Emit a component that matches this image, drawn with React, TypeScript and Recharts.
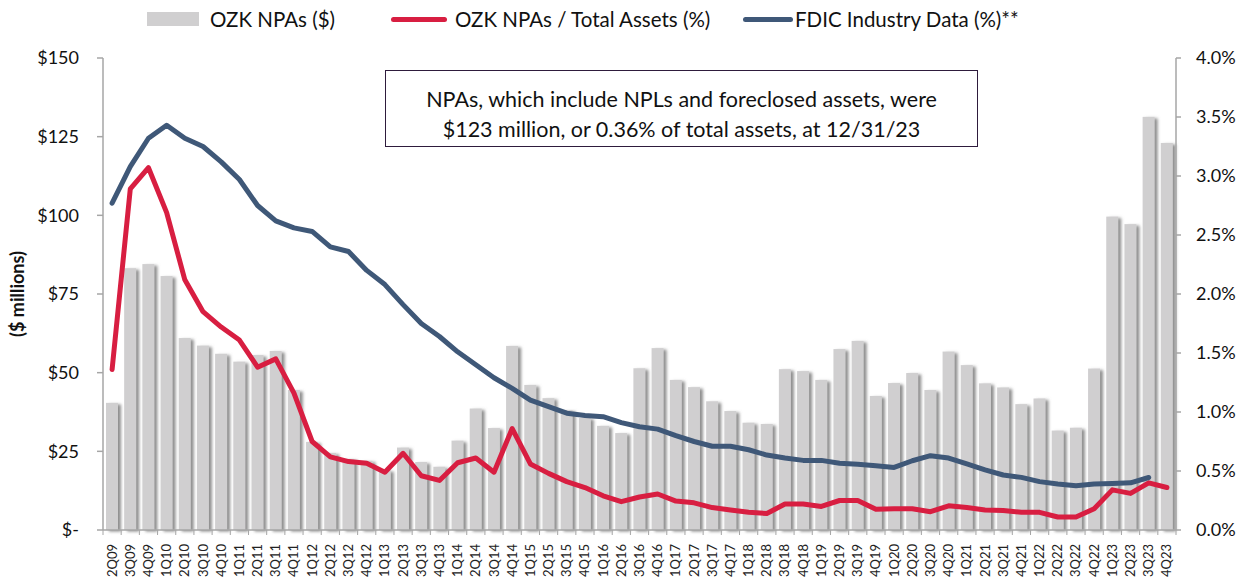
import { ComposedChart, Bar, Line, XAxis, YAxis } from 'recharts';

const quarters = [
  '2Q09', '3Q09', '4Q09',
  '1Q10', '2Q10', '3Q10', '4Q10',
  '1Q11', '2Q11', '3Q11', '4Q11',
  '1Q12', '2Q12', '3Q12', '4Q12',
  '1Q13', '2Q13', '3Q13', '4Q13',
  '1Q14', '2Q14', '3Q14', '4Q14',
  '1Q15', '2Q15', '3Q15', '4Q15',
  '1Q16', '2Q16', '3Q16', '4Q16',
  '1Q17', '2Q17', '3Q17', '4Q17',
  '1Q18', '2Q18', '3Q18', '4Q18',
  '1Q19', '2Q19', '3Q19', '4Q19',
  '1Q20', '2Q20', '3Q20', '4Q20',
  '1Q21', '2Q21', '3Q21', '4Q21',
  '1Q22', '2Q22', '3Q22', '4Q22',
  '1Q23', '2Q23', '3Q23', '4Q23',
];

// OZK NPAs, $ millions
const npaDollars = [
  40.4, 83.2, 84.5, 80.7, 61.0, 58.6, 56.0, 53.5, 55.6, 56.9,
  44.5, 28.0, 24.5, 22.6, 22.0, 19.0, 26.2, 21.6, 20.1, 28.4,
  38.6, 32.4, 58.5, 46.1, 41.9, 38.1, 35.6, 33.1, 30.8, 51.4,
  57.8, 47.7, 45.4, 40.9, 37.8, 34.1, 33.7, 51.1, 50.5, 47.7,
  57.5, 60.1, 42.6, 46.7, 49.9, 44.5, 56.7, 52.4, 46.6, 45.3,
  40.0, 41.8, 31.6, 32.5, 51.3, 99.6, 97.2, 131.3, 123.0,
];

// OZK NPAs / total assets, %
const npaRatio = [
  1.36, 2.89, 3.07, 2.69, 2.12, 1.85, 1.72, 1.61, 1.38, 1.45,
  1.16, 0.75, 0.62, 0.58, 0.565, 0.49, 0.65, 0.46, 0.42, 0.57,
  0.61, 0.49, 0.86, 0.56, 0.48, 0.41, 0.36, 0.29, 0.24, 0.28,
  0.305, 0.245, 0.23, 0.19, 0.17, 0.15, 0.14, 0.22, 0.22, 0.2,
  0.25, 0.25, 0.175, 0.18, 0.18, 0.155, 0.205, 0.19, 0.17, 0.165,
  0.15, 0.15, 0.11, 0.11, 0.18, 0.34, 0.31, 0.4, 0.36,
];

// FDIC industry NPAs, % (no 4Q23 figure yet)
const fdicRatio = [
  2.77, 3.08, 3.32, 3.43, 3.32, 3.25, 3.12, 2.97, 2.75, 2.62,
  2.56, 2.53, 2.4, 2.36, 2.2, 2.08, 1.91, 1.75, 1.64, 1.51,
  1.4, 1.29, 1.2, 1.1, 1.045, 0.99, 0.97, 0.96, 0.91, 0.875,
  0.855, 0.8, 0.75, 0.71, 0.71, 0.68, 0.635, 0.61, 0.59, 0.59,
  0.565, 0.557, 0.545, 0.53, 0.587, 0.63, 0.61, 0.56, 0.51, 0.466,
  0.446, 0.41, 0.39, 0.375, 0.39, 0.395, 0.4, 0.445, null,
];

const dollarTicks = [0, 25, 50, 75, 100, 125, 150];
const pctTicks = [0, 0.5, 1, 1.5, 2, 2.5, 3, 3.5, 4];

const data = quarters.map((q, i) => ({
  q,
  npa: npaDollars[i],
  ratio: npaRatio[i],
  fdic: fdicRatio[i],
}));

const FONT = 'Lato, "Open Sans", sans-serif';
const BAR_FILL = '#d0cfd0';
const RED = '#d81e41';
const BLUE = '#3f5878';
const AXIS = '#a6a6a6';
const BAND = 1073 / quarters.length;

function QuarterTick(props: any) {
  const { x, y, payload, index } = props;
  const last = index === quarters.length - 1;
  return (
    <g>
      <line x1={x - BAND / 2} y1={y} x2={x - BAND / 2} y2={y + 5} stroke={AXIS} />
      {last && <line x1={x + BAND / 2} y1={y} x2={x + BAND / 2} y2={y + 5} stroke={AXIS} />}
      <text
        transform={`translate(${x + 4.5},${y + 14}) rotate(-90)`}
        textAnchor="end"
        fontSize={13}
        fontFamily={FONT}
        fill="#222"
      >
        {payload.value}
      </text>
    </g>
  );
}

function ShadowBar(props: any) {
  const { x, y, width, height } = props;
  if (!height) return null;
  return <rect x={x} y={y} width={width} height={height} fill={BAR_FILL} filter="url(#barShadow)" />;
}

const legendText = { position: 'absolute' as const, top: 5, fontSize: 20.5, lineHeight: '28px', color: '#111' };

export default function App() {
  return (
    <div style={{ position: 'absolute', left: 0, top: 0, width: 1247, height: 578, fontFamily: FONT, background: '#fff' }}>
      <ComposedChart
        width={1247}
        height={578}
        data={data}
        margin={{ top: 58, right: 11, bottom: 0, left: 8 }}
        barSize={12}
      >
        <defs>
          <filter id="barShadow" x="-30%" y="-5%" width="180%" height="115%">
            <feDropShadow dx="3" dy="1.5" stdDeviation="1.4" floodColor="#7a7a7a" floodOpacity="0.85" />
          </filter>
        </defs>
        <XAxis
          dataKey="q"
          interval={0}
          height={48}
          tickLine={false}
          tickSize={0}
          tickMargin={0}
          axisLine={{ stroke: AXIS, strokeWidth: 1.5 }}
          tick={<QuarterTick />}
        />
        <YAxis
          yAxisId="usd"
          width={95}
          domain={[0, 150]}
          ticks={dollarTicks}
          tickFormatter={(v: number) => (v === 0 ? '$-' : `$${v}`)}
          tick={{ fontSize: 18, fill: '#111', fontFamily: FONT }}
          tickSize={6}
          tickMargin={18}
          axisLine={{ stroke: AXIS, strokeWidth: 1.5 }}
          tickLine={{ stroke: AXIS, strokeWidth: 1.5 }}
          label={{
            content: ({ viewBox }: any) => (
              <text
                transform={`translate(${viewBox.x + 16},${viewBox.y + viewBox.height / 2}) rotate(-90)`}
                textAnchor="middle"
                fontSize={18}
                fontWeight="bold"
                fontFamily={FONT}
                fill="#111"
              >
                ($ millions)
              </text>
            ),
          }}
        />
        <YAxis
          yAxisId="pct"
          orientation="right"
          width={60}
          domain={[0, 4]}
          ticks={pctTicks}
          tickFormatter={(v: number) => `${v.toFixed(1)}%`}
          tick={{ fontSize: 18, fill: '#111', fontFamily: FONT }}
          tickSize={5}
          tickMargin={15}
          axisLine={{ stroke: AXIS, strokeWidth: 1.5 }}
          tickLine={{ stroke: AXIS, strokeWidth: 1.5 }}
        />
        <Bar yAxisId="usd" dataKey="npa" fill={BAR_FILL} shape={<ShadowBar />} isAnimationActive={false} />
        <Line
          yAxisId="pct"
          type="linear"
          dataKey="ratio"
          stroke={RED}
          strokeWidth={5}
          strokeLinejoin="round"
          strokeLinecap="round"
          dot={false}
          isAnimationActive={false}
        />
        <Line
          yAxisId="pct"
          type="linear"
          dataKey="fdic"
          stroke={BLUE}
          strokeWidth={5}
          strokeLinejoin="round"
          strokeLinecap="round"
          dot={false}
          isAnimationActive={false}
        />
      </ComposedChart>

      {/* legend */}
      <div style={{ position: 'absolute', left: 147, top: 12, width: 52, height: 14, background: BAR_FILL }} />
      <div style={{ ...legendText, left: 210 }}>OZK NPAs ($)</div>
      <div style={{ position: 'absolute', left: 391, top: 17, width: 56, height: 5, borderRadius: 3, background: RED }} />
      <div style={{ ...legendText, left: 455 }}>OZK NPAs / Total Assets (%)</div>
      <div style={{ position: 'absolute', left: 743, top: 17, width: 50, height: 5, borderRadius: 3, background: BLUE }} />
      <div style={{ ...legendText, left: 795 }}>FDIC Industry Data (%)**</div>

      {/* callout */}
      <div
        style={{
          position: 'absolute',
          left: 385,
          top: 70,
          width: 593,
          height: 77,
          boxSizing: 'border-box',
          border: '1.5px solid #2e1b3c',
          background: '#fff',
          textAlign: 'center',
          fontSize: 21.5,
          lineHeight: '30px',
          paddingTop: 13,
          color: '#111',
        }}
      >
        NPAs, which include NPLs and foreclosed assets, were
        <br />
        $123 million, or 0.36% of total assets, at 12/31/23
      </div>
    </div>
  );
}
